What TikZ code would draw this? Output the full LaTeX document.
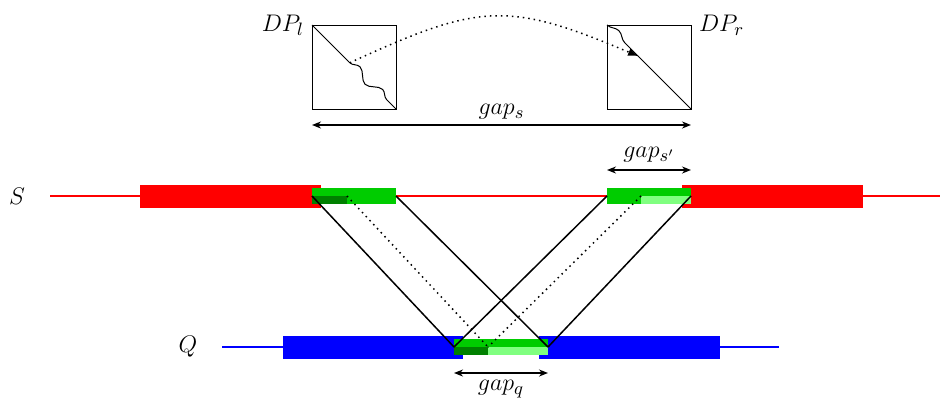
\documentclass[tikz,border=0pt]{standalone}
\definecolor{SeqRed}{RGB}{255, 0, 0}
\definecolor{SeqBlue}{RGB}{0, 0, 255}
\definecolor{HitGreen}{RGB}{0, 204, 0}
\definecolor{HitDark}{RGB}{0, 128, 0}
\definecolor{HitLight}{RGB}{128, 255, 128}
\usepackage{tikz}
\usetikzlibrary{arrows.meta,positioning,calc,decorations.pathmorphing}

\begin{document}
\begin{tikzpicture}[x=0.5pt, y=0.5pt,
    lbl/.style={font=\fontsize{13}{15}\selectfont},
    barbox/.style={rectangle, inner sep=0pt, outer sep=0pt, minimum height=11.5pt},
    hitbox/.style={rectangle, fill=HitGreen, inner sep=0pt, outer sep=0pt, minimum width=42pt, minimum height=8pt},
    partbox/.style={rectangle, inner sep=0pt, outer sep=0pt, minimum height=4pt},
    dpbox/.style={rectangle, draw, line width=0.5pt, minimum size=42pt, inner sep=0pt, outer sep=0pt},
    seqline/.style={line width=1.3pt},
    linkline/.style={line width=0.75pt},
    gaparrow/.style={line width=0.8pt, {Stealth[length=4.5pt,width=3.5pt]}-{Stealth[length=4.5pt,width=3.5pt]}},
    wave/.style={decorate, decoration={snake, amplitude=2.2pt, segment length=#1}}]
  \useasboundingbox (0,0) rectangle (940,403);

  % sequence S
  \node[lbl] (S) at (17,207) {$S$};
  \coordinate (s0) at (50,207);
  \coordinate (s1) at (940,207);
  \draw[seqline, SeqRed] (s0) -- (s1);
  \node[barbox, fill=SeqRed, minimum width=90.5pt] (redL) at (230.5,207) {};
  \node[barbox, fill=SeqRed, minimum width=90.5pt] (redR) at (772.5,207) {};
  \node[hitbox] (hitSL) at (354,207) {};
  \node[hitbox] (hitSR) at (649,207) {};
  \node[partbox, fill=HitDark, minimum width=17.5pt, anchor=south west] (darkS) at (hitSL.south west) {};
  \node[partbox, fill=HitLight, minimum width=25pt, anchor=south east] (lightS) at (hitSR.south east) {};

  % sequence Q
  \node[lbl] (Q) at (188,56) {$Q$};
  \coordinate (q0) at (222,56);
  \coordinate (q1) at (779,56);
  \draw[seqline, SeqBlue] (q0) -- (q1);
  \node[barbox, fill=SeqBlue, minimum width=90pt] (blueL) at (373,56) {};
  \node[barbox, fill=SeqBlue, minimum width=90.5pt] (blueR) at (629.5,56) {};
  \node[hitbox, minimum width=47pt] (hitQ) at (501,56) {};
  \node[partbox, fill=HitDark, minimum width=17pt, anchor=south west] (darkQ) at (hitQ.south west) {};
  \node[partbox, fill=HitLight, minimum width=30pt, anchor=south east] (lightQ) at (hitQ.south east) {};

  % alignments
  \draw[linkline] (hitSL.west) -- (hitQ.west);
  \draw[linkline] (hitSL.east) -- (hitQ.east);
  \draw[linkline] (hitSR.west) -- (hitQ.west);
  \draw[linkline] (hitSR.east) -- (hitQ.east);
  \draw[linkline, dotted] (darkS.north east) -- (darkQ.north east);
  \draw[linkline, dotted] (lightS.north west) -- (lightQ.north west);

  % dp matrices
  \node[dpbox, above=39.5pt of hitSL] (dpL) {};
  \node[dpbox, above=39.5pt of hitSR] (dpR) {};
  \node[lbl, left=0.5pt of dpL.north west] (dpLname) {$DP_l$};
  \node[lbl, right=0.5pt of dpR.north east] (dpRname) {$DP_r$};
  \coordinate (kinkL) at ($(dpL.north west)!0.45!(dpL.south east)$);
  \coordinate (kinkR) at ($(dpR.north west)!0.37!(dpR.south east)$);
  \draw[line width=0.5pt] (dpL.north west) -- (kinkL);
  \draw[line width=0.5pt, wave=16pt] (kinkL) -- (dpL.south east);
  \draw[line width=0.5pt, wave=20pt] (dpR.north west) -- (kinkR);
  \draw[line width=0.5pt] (kinkR) -- (dpR.south east);
  \draw[linkline, dotted, -{Latex[length=5pt,width=4pt]}] (kinkL) .. controls +(130,60) and +(-130,55) .. (kinkR);

  % gaps
  \draw[gaparrow] ([yshift=-8pt]dpL.south west) -- node[lbl, above, inner sep=2.5pt] (gapS) {$gap_s$} ([yshift=-8pt]dpR.south east);
  \draw[gaparrow] ([yshift=9pt]hitSR.north west) -- node[lbl, above] (gapSp) {$gap_{s'}$} ([yshift=9pt]hitSR.north east);
  \draw[gaparrow] ([yshift=-9pt]hitQ.south west) -- node[lbl, below] (gapQ) {$gap_q$} ([yshift=-9pt]hitQ.south east);
\end{tikzpicture}
\end{document}
